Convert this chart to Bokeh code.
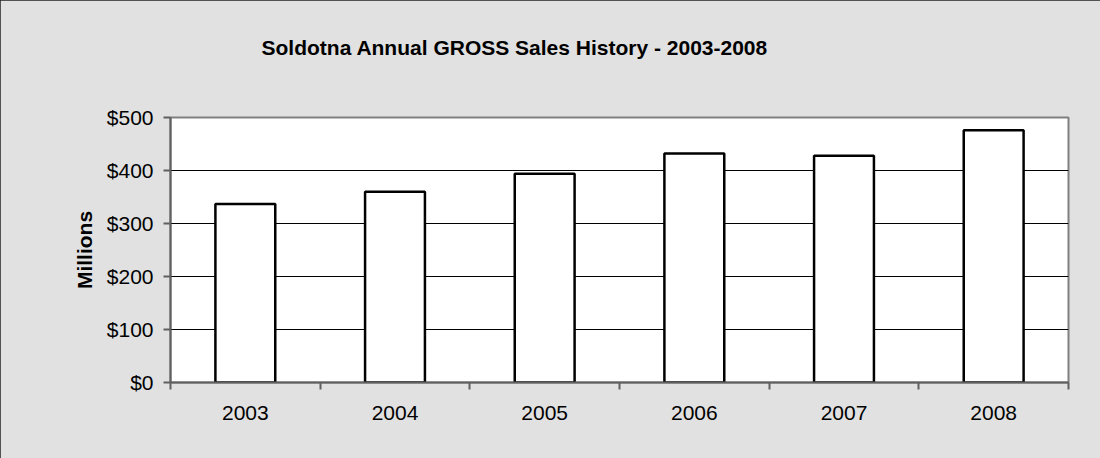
import numpy as np
from bokeh.plotting import figure
from bokeh.models import FixedTicker, ColumnDataSource, Range1d, NumeralTickFormatter, Title
from bokeh.embed import file_html
from bokeh.resources import INLINE

years = ["2003", "2004", "2005", "2006", "2007", "2008"]
sales = [337, 360, 394, 432, 428, 476]
y_ticks = [0, 100, 200, 300, 400, 500]
title_text = "Soldotna Annual GROSS Sales History - 2003-2008"

FONT = "Liberation Sans"

xs = [i + 0.5 for i in range(len(years))]
src = ColumnDataSource(dict(x=xs, top=sales, year=years))

p = figure(
    frame_width=898, frame_height=265,
    min_border_left=170, min_border_right=32, min_border_top=117, min_border_bottom=76,
    x_range=Range1d(0, len(years)), y_range=Range1d(0, 500),
    output_backend="svg", toolbar_location=None,
    background_fill_color="white", border_fill_color="#e1e1e1",
    outline_line_color="#808080", outline_line_width=2,
)
p.styles = {"box-shadow": "inset 2px 2px 0 #222, inset -2px 0 0 #222"}

p.vbar(x="x", top="top", width=0.4, bottom=0, source=src,
       fill_color="white", line_color="black", line_width=2.5)

# real title, with an empty spacer title between it and the frame
p.title.text = title_text
p.title.align = "left"
p.title.offset = 91
p.title.standoff = 10
p.title.text_font = FONT
p.title.text_font_size = "21px"
p.title.text_font_style = "bold"
p.title.text_color = "black"
p.add_layout(Title(text=" ", text_font_size="10px", standoff=41), "above")

# x axis: labels centred on bars, ticks on category boundaries
xa = p.xaxis[0]
xa.ticker = FixedTicker(ticks=xs, minor_ticks=list(range(len(years) + 1)))
xa.major_label_overrides = {x: y for x, y in zip(xs, years)}
xa.major_tick_out = 0
xa.major_tick_in = 0
xa.minor_tick_out = 7
xa.minor_tick_in = 0
xa.minor_tick_line_color = "#606060"
xa.minor_tick_line_width = 2
xa.axis_line_color = "#606060"
xa.axis_line_width = 2
xa.major_label_text_font = FONT
xa.major_label_text_font_size = "21px"
xa.major_label_text_color = "black"
xa.major_label_standoff = 16

ya = p.yaxis[0]
ya.ticker = FixedTicker(ticks=y_ticks)
ya.formatter = NumeralTickFormatter(format="$0")
ya.major_tick_out = 7
ya.major_tick_in = 0
ya.minor_tick_out = 0
ya.minor_tick_in = 0
ya.major_tick_line_color = "#606060"
ya.major_tick_line_width = 2
ya.axis_line_color = "#606060"
ya.axis_line_width = 2
ya.major_label_text_font = FONT
ya.major_label_text_font_size = "21px"
ya.major_label_text_color = "black"
ya.major_label_standoff = 10
ya.axis_label = "Millions"
ya.axis_label_text_font = FONT
ya.axis_label_text_font_size = "21px"
ya.axis_label_text_font_style = "bold"
ya.axis_label_text_color = "black"
ya.axis_label_standoff = 8

p.xgrid.grid_line_color = None
p.ygrid.ticker = FixedTicker(ticks=y_ticks)
p.ygrid.grid_line_color = "black"
p.ygrid.grid_line_width = 1.2

open("out.html", "w").write(file_html(p, INLINE))
